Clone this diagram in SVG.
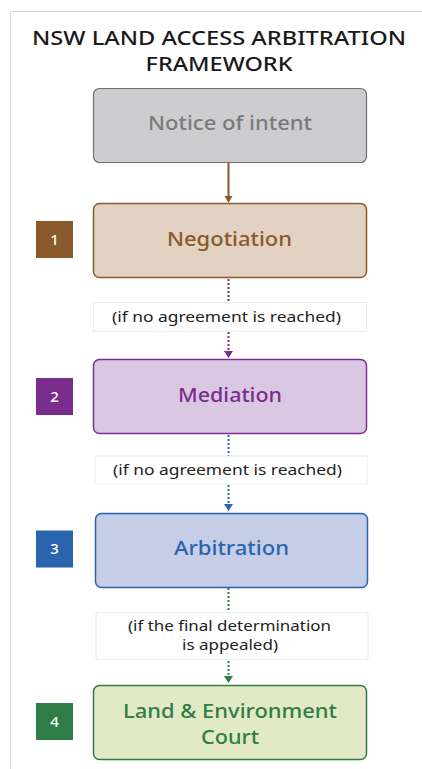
<svg xmlns="http://www.w3.org/2000/svg" width="422" height="769" viewBox="0 0 422 769">
<style>
text{font-family:"Noto Sans","Liberation Sans",sans-serif;text-anchor:middle}
.title{font-size:19.5px;font-weight:500;fill:#1a1a1a}
.node{font-size:19.5px;font-weight:500}
.lbl{font-size:15px;fill:#222}
.num{font-size:15px;fill:#fff;font-weight:500}
.lbox{fill:#fff;stroke:#ececec;stroke-width:1}
.conn{stroke-width:2;fill:none}
.dot{stroke-dasharray:2 2}
</style>
<rect width="422" height="769" fill="#fff"/>
<path d="M10.5,769 V11.5 H422" fill="none" stroke="#d9d9d9" stroke-width="1"/>
<g id="title">
<text class="title" x="219" y="45" textLength="374" lengthAdjust="spacingAndGlyphs">NSW LAND ACCESS ARBITRATION</text>
<text class="title" x="219" y="71" textLength="147" lengthAdjust="spacingAndGlyphs">FRAMEWORK</text>
</g>
<g id="connectors">
<line class="conn" x1="228.5" y1="163" x2="228.5" y2="197" stroke="#8b5a2b"/>
<path d="M224.5,196 L232.5,196 L228.5,203 Z" fill="#8b5a2b"/>
<line class="conn dot" x1="228.5" y1="279" x2="228.5" y2="302" stroke="#7b2d8e"/>
<line class="conn dot" x1="228.5" y1="332" x2="228.5" y2="352" stroke="#7b2d8e"/>
<path d="M224,351 L233,351 L228.5,358 Z" fill="#7b2d8e"/>
<line class="conn dot" x1="228.5" y1="435" x2="228.5" y2="456" stroke="#2a64ae"/>
<line class="conn dot" x1="228.5" y1="485" x2="228.5" y2="505" stroke="#2a64ae"/>
<path d="M224,504 L233,504 L228.5,511 Z" fill="#2a64ae"/>
<line class="conn dot" x1="228.5" y1="588" x2="228.5" y2="612" stroke="#2e7d46"/>
<line class="conn dot" x1="228.5" y1="661" x2="228.5" y2="677" stroke="#2e7d46"/>
<path d="M224,676 L233,676 L228.5,683 Z" fill="#2e7d46"/>
</g>
<g id="label1">
<rect class="lbox" x="93.5" y="302.5" width="273" height="29"/>
<text class="lbl" x="226.5" y="322" textLength="229" lengthAdjust="spacingAndGlyphs">(if no agreement is reached)</text>
</g>
<g id="label2">
<rect class="lbox" x="95" y="456" width="272" height="28"/>
<text class="lbl" x="227.5" y="475" textLength="229" lengthAdjust="spacingAndGlyphs">(if no agreement is reached)</text>
</g>
<g id="label3">
<rect class="lbox" x="96" y="612.5" width="272" height="47"/>
<text class="lbl" x="229.5" y="631" textLength="203" lengthAdjust="spacingAndGlyphs">(if the final determination</text>
<text class="lbl" x="230" y="650" textLength="96" lengthAdjust="spacingAndGlyphs">is appealed)</text>
</g>
<g id="notice">
<rect x="93.5" y="88.5" width="273" height="74" rx="6" fill="#cdcdcf" stroke="#6d6e70" stroke-width="1.2"/>
<text class="node" x="230" y="130" fill="#7a7a7c" textLength="164" lengthAdjust="spacingAndGlyphs">Notice of intent</text>
</g>
<g id="negotiation">
<rect x="93.5" y="203.5" width="273" height="74" rx="6" fill="#e2d2c1" stroke="#8b5a2b" stroke-width="1.5"/>
<text class="node" x="229.5" y="246" fill="#8b5a2b" textLength="125" lengthAdjust="spacingAndGlyphs">Negotiation</text>
<rect x="36" y="221" width="37" height="37" fill="#8b5a2b"/>
<text class="num" x="54.5" y="244.5">1</text>
</g>
<g id="mediation">
<rect x="93.5" y="359.5" width="273" height="74" rx="6" fill="#dac8e2" stroke="#7b2d8e" stroke-width="1.5"/>
<text class="node" x="230" y="402" fill="#7b2d8e" textLength="104" lengthAdjust="spacingAndGlyphs">Mediation</text>
<rect x="36" y="378" width="37" height="37" fill="#7b2d8e"/>
<text class="num" x="54.5" y="401.5">2</text>
</g>
<g id="arbitration">
<rect x="95.5" y="513.5" width="272" height="74" rx="6" fill="#c6cde6" stroke="#2a64ae" stroke-width="1.5"/>
<text class="node" x="231.5" y="555" fill="#2a64ae" textLength="115" lengthAdjust="spacingAndGlyphs">Arbitration</text>
<rect x="36" y="530.5" width="37" height="37" fill="#2a64ae"/>
<text class="num" x="54.5" y="554">3</text>
</g>
<g id="court">
<rect x="93.5" y="685.5" width="273" height="74" rx="6" fill="#e2e9c6" stroke="#2e7d46" stroke-width="1.5"/>
<text class="node" x="230" y="718" fill="#2e7d46" textLength="214" lengthAdjust="spacingAndGlyphs">Land &amp; Environment</text>
<text class="node" x="230" y="744" fill="#2e7d46" textLength="58" lengthAdjust="spacingAndGlyphs">Court</text>
<rect x="36" y="703" width="37" height="37" fill="#2e7d46"/>
<text class="num" x="54.5" y="726.5">4</text>
</g>
</svg>
